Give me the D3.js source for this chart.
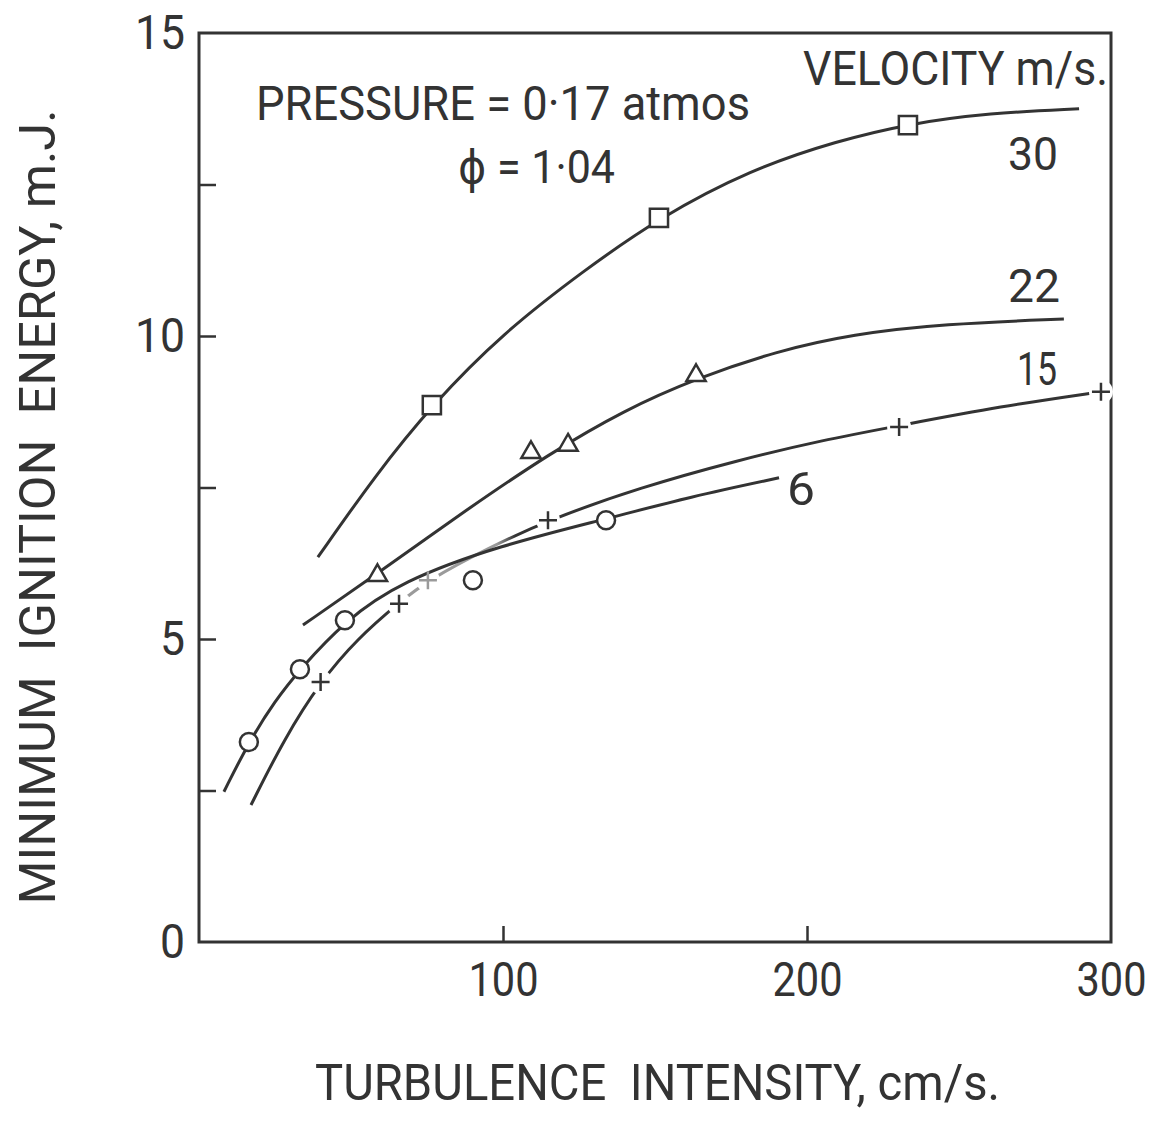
<!DOCTYPE html>
<html>
<head>
<meta charset="utf-8">
<script src="https://cdn.jsdelivr.net/npm/d3@7"></script>
<style>
  body { margin: 0; background: #fff; }
  text { font-family: Roboto, "DejaVu Sans", sans-serif; font-weight: 400; fill: #333; white-space: pre; }
</style>
</head>
<body>
<svg id="chart" width="1162" height="1129"></svg>
<script>
// values: turbulence intensity (cm/s) vs min ignition energy (mJ)
const velocities = ["30", "22", "15", "6"]

// faired curves as drawn by hand
const curve30 = [[39.1, 6.35], [58, 7.7], [76.6, 8.86], [100, 10.05], [126.6, 11.08], [151.3, 11.95], [181.6, 12.75], [210, 13.22], [233.2, 13.5], [260, 13.68], [289.5, 13.75]]
const curve22 = [[34.2, 5.23], [58.9, 6.09], [88.5, 7.15], [115, 8.05], [140, 8.78], [163.5, 9.3], [190, 9.75], [215, 10.03], [245, 10.2], [284.5, 10.28]]
const curve15 = [[17.1, 2.26], [28, 3.35], [40, 4.3], [52, 5.0], [65.8, 5.6], [75.3, 5.97], [95, 6.5], [114.8, 6.96], [145, 7.5], [177.3, 7.95], [205, 8.28], [230.3, 8.52], [263.8, 8.84], [296.7, 9.08]]
const curve6 = [[8.2, 2.48], [16.4, 3.3], [25, 3.98], [33.2, 4.5], [48, 5.3], [66.4, 5.95], [99.3, 6.55], [133.9, 6.98], [161.8, 7.35], [190.8, 7.66]]

// measured points
const marks30 = [[76.6, 8.86], [151.3, 11.95], [233.2, 13.48]]
const marks22 = [[58.7, 6.05], [109.2, 8.08], [121.4, 8.2], [163.5, 9.35]]
const marks15 = [[40, 4.29], [65.8, 5.58], [75.3, 5.97], [114.8, 6.96], [230.3, 8.5], [296.7, 9.08]]
const marks6 = [[16.4, 3.3], [33.2, 4.5], [48, 5.31], [90.1, 5.97], [133.9, 6.96]]

const xTicks = [100, 200]
const xTickLabels = [100, 200, 300]
const yTicks = [2.5, 5, 7.5, 10, 12.5]
const yTickLabels = [0, 5, 10, 15]

const ink = '#333'
const svg = d3.select('#chart')
const x = d3.scaleLinear().domain([0, 300]).range([199, 1111])
const y = d3.scaleLinear().domain([0, 15]).range([942, 33])

// frame
svg.append('rect')
    .attr('x', x(0)).attr('y', y(15))
    .attr('width', x(300) - x(0)).attr('height', y(0) - y(15))
    .attr('fill', 'none').attr('stroke', ink).attr('stroke-width', 3)

// inward ticks
let xt = svg.append('g').attr('transform', `translate(0,${y(0)})`)
    .call(d3.axisBottom(x).tickValues(xTicks).tickSize(-16).tickFormat(''))
xt.select('.domain').remove()
xt.selectAll('line').attr('stroke', ink).attr('stroke-width', 2.5)

let yt = svg.append('g').attr('transform', `translate(${x(0)},0)`)
    .call(d3.axisLeft(y).tickValues(yTicks).tickSize(-17).tickFormat(''))
yt.select('.domain').remove()
yt.selectAll('line').attr('stroke', ink).attr('stroke-width', 2.5)

// tick labels
let xl = svg.append('g').attr('transform', `translate(0,${y(0)})`)
    .call(d3.axisBottom(x).tickValues(xTickLabels).tickSize(0).tickPadding(20))
xl.select('.domain').remove()
xl.selectAll('text').attr('font-size', 48).attr('font-family', null).attr('fill', ink)
    .attr('textLength', 70).attr('lengthAdjust', 'spacingAndGlyphs')

let yl = svg.append('g').attr('transform', `translate(${x(0)},0)`)
    .call(d3.axisLeft(y).tickValues(yTickLabels).tickSize(0).tickPadding(14))
yl.select('.domain').remove()
yl.selectAll('text').attr('font-size', 48).attr('font-family', null).attr('fill', ink)
    .attr('textLength', d => String(d).length * 25).attr('lengthAdjust', 'spacingAndGlyphs')

// curves
let line = d3.line().x(d => x(d[0])).y(d => y(d[1])).curve(d3.curveBasis)

// the 15 m/s curve fades to grey in the middle on the original
let grad = svg.append('defs').append('linearGradient')
    .attr('id', 'fade15').attr('gradientUnits', 'userSpaceOnUse')
    .attr('x1', x(0)).attr('x2', x(300)).attr('y1', 0).attr('y2', 0)
grad.selectAll('stop')
    .data([[62, ink], [66, '#9a9a9a'], [98, '#9a9a9a'], [104, ink]])
    .join('stop')
    .attr('offset', d => d[0] / 300)
    .attr('stop-color', d => d[1])

svg.append('path').datum(curve15)
    .attr('d', line).attr('fill', 'none')
    .attr('stroke', 'url(#fade15)').attr('stroke-width', 3)

// gaps in the 15 curve around the crosses
svg.append('g').selectAll('circle')
    .data(marks15)
    .join('circle')
    .attr('cx', d => x(d[0])).attr('cy', d => y(d[1]))
    .attr('r', 12).attr('fill', '#fff')

let curves = [curve30, curve22, curve6]
svg.append('g').selectAll('path')
    .data(curves)
    .join('path')
    .attr('d', line).attr('fill', 'none')
    .attr('stroke', ink).attr('stroke-width', 3)

// markers
svg.append('g').selectAll('path')
    .data(marks30)
    .join('path')
    .attr('transform', d => `translate(${x(d[0])},${y(d[1])})`)
    .attr('d', d3.symbol(d3.symbolSquare, 330))
    .attr('fill', '#fff').attr('stroke', ink).attr('stroke-width', 2.5)

svg.append('g').selectAll('path')
    .data(marks22)
    .join('path')
    .attr('transform', d => `translate(${x(d[0])},${y(d[1])})`)
    .attr('d', d3.symbol(d3.symbolTriangle, 160))
    .attr('fill', '#fff').attr('stroke', ink).attr('stroke-width', 2.5)

svg.append('g').selectAll('path')
    .data(marks15)
    .join('path')
    .attr('transform', d => `translate(${x(d[0])},${y(d[1])})`)
    .attr('d', 'M-9,0H9M0,-9V9')
    .attr('fill', 'none')
    .attr('stroke', d => (d[0] > 70 && d[0] < 80) ? '#9a9a9a' : ink)
    .attr('stroke-width', 2.5)

svg.append('g').selectAll('circle')
    .data(marks6)
    .join('circle')
    .attr('cx', d => x(d[0])).attr('cy', d => y(d[1]))
    .attr('r', 9)
    .attr('fill', '#fff').attr('stroke', ink).attr('stroke-width', 2.5)

// curve labels
let labelPos = [[1008, 170, 50], [1008, 302, 52], [1017, 385, 40], [787, 505, 28]]
svg.append('g').selectAll('text')
    .data(velocities)
    .join('text')
    .attr('x', (d, i) => labelPos[i][0]).attr('y', (d, i) => labelPos[i][1])
    .attr('font-size', 47)
    .attr('textLength', (d, i) => labelPos[i][2]).attr('lengthAdjust', 'spacingAndGlyphs')
    .text(d => d)

function note(txt, px, py, size, len) {
    return svg.append('text')
        .attr('x', px).attr('y', py)
        .attr('font-size', size)
        .attr('textLength', len).attr('lengthAdjust', 'spacingAndGlyphs')
        .text(txt)
}

note('VELOCITY m/s.', 803, 85, 48, 305)
note('PRESSURE = 0·17 atmos', 256, 120, 49, 494)
note('ϕ = 1·04', 458, 183, 47, 157)

// axis titles
note('TURBULENCE  INTENSITY, cm/s.', 315, 1100, 50, 685)
svg.append('text')
    .attr('transform', 'translate(55,507) rotate(-90)')
    .attr('text-anchor', 'middle')
    .attr('font-size', 50)
    .attr('textLength', 795).attr('lengthAdjust', 'spacingAndGlyphs')
    .text('MINIMUM  IGNITION  ENERGY, m.J.')
</script>
</body>
</html>
